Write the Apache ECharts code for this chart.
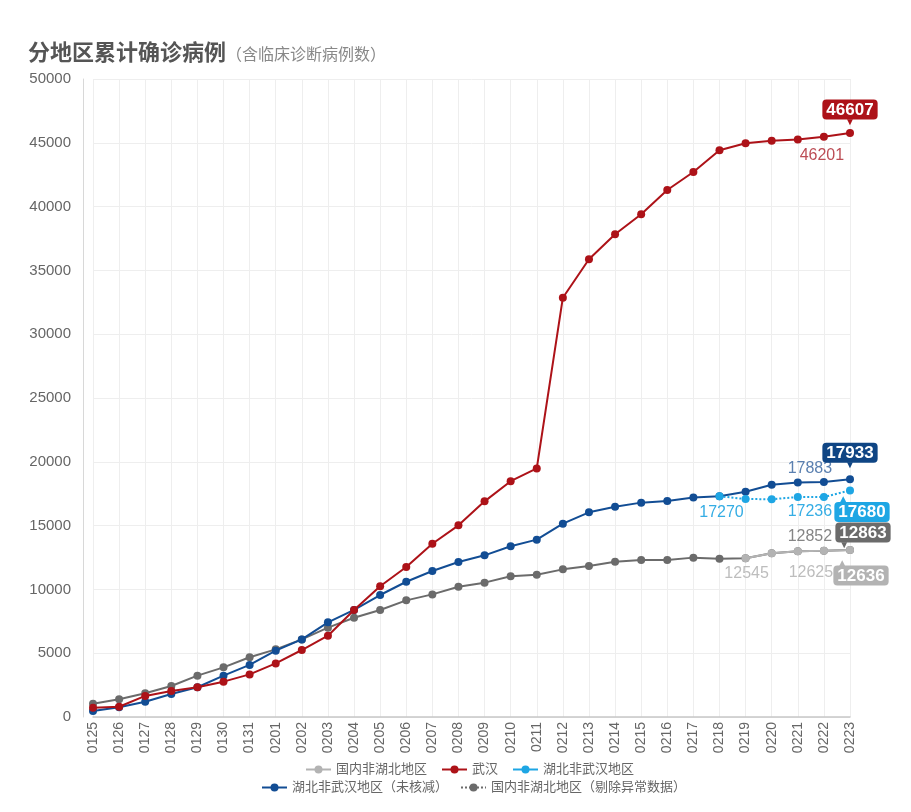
<!DOCTYPE html>
<html>
<head>
    <meta charset="utf-8">
    <title>分地区累计确诊病例</title>
    <script src="https://cdn.jsdelivr.net/npm/echarts@6/dist/echarts.min.js"></script>
    <style>
        html, body { margin: 0; padding: 0; background: #fff; }
        #main { width: 911px; height: 812px; }
    </style>
</head>
<body>
    <div id="main"></div>
    <script>
        // dates on the x axis
        var categories = ['0125', '0126', '0127', '0128', '0129', '0130', '0131',
                          '0201', '0202', '0203', '0204', '0205', '0206', '0207', '0208', '0209', '0210',
                          '0211', '0212', '0213', '0214', '0215', '0216', '0217', '0218', '0219', '0220',
                          '0221', '0222', '0223'];

        // values
        var wuhan = [720, 800, 1650, 2040, 2330, 2770, 3340, 4200, 5250, 6370, 8390, 10250, 11760, 13580, 15020,
                     16900, 18480, 19480, 32860, 35870, 37830, 39400, 41300, 42710, 44410, 44960, 45170, 45250,
                     45480, 45770];
        var hubeiRaw = [470, 760, 1200, 1800, 2330, 3240, 4080, 5200, 6080, 7420, 8390, 9560, 10600, 11440, 12150,
                        12670, 13380, 13900, 15150, 16040, 16480, 16800, 16930, 17210, 17300, 17660, 18200, 18370,
                        18420, 18630];
        var hubei = [null, null, null, null, null, null, null, null, null, null, null, null, null, null, null,
                     null, null, null, null, null, null, null, null, null, 17300, 17080, 17070, 17240, 17240, 17760];
        var otherClean = [1030, 1390, 1860, 2430, 3240, 3890, 4680, 5300, 6080, 7000, 7780, 8390, 9140, 9610, 10210,
                          10530, 11030, 11150, 11570, 11830, 12170, 12300, 12300, 12490, 12400, 12440, 12830, 12990,
                          13020, 13090];
        var other = [null, null, null, null, null, null, null, null, null, null, null, null, null, null, null,
                     null, null, null, null, null, null, null, null, null, null, 12440, 12830, 12990, 13020, 13090];

        // annotation texts: [index, text]
        var wuhanNotes = [[28, '46201'], [29, '46607']];
        var hubeiRawNotes = [[28, '17883'], [29, '17933']];
        var hubeiNotes = [[24, '17270'], [28, '17236'], [29, '17680']];
        var otherCleanNotes = [[28, '12852'], [29, '12863']];
        var otherNotes = [[25, '12545'], [28, '12625'], [29, '12636']];

        var C = {
            red: '#ad1218', redText: '#bc4d55',
            navy: '#124d94', navyText: '#5b80b0', navyTag: '#0f4584',
            sky: '#1ea6e4', skyText: '#35ade4',
            dark: '#6b6b6b', darkText: '#858585',
            light: '#b3b3b3', lightText: '#bdbdbd'
        };
        var FONT = '"Liberation Sans", Arial, "Noto Sans CJK SC", sans-serif';
        var SYM = 8;

        // place a label so its centre sits at (dx, dy) from the point
        function at(dx, dy) {
            return [SYM / 2 + dx, SYM / 2 + dy];
        }

        // plain number label
        function note(color, text, dx, dy) {
            return {show: true, position: at(dx, dy), align: 'center', verticalAlign: 'middle',
                    formatter: text, color: color, fontSize: 16, fontFamily: FONT};
        }

        // callout box with a small pointer; arrowUp puts the pointer above the box
        function tag(color, text, dx, dy, arrowUp, arrowSide) {
            var rich = {
                box: {color: '#fff', backgroundColor: color, fontSize: 17, fontWeight: 'bold',
                      padding: [2, 4, 1, 4], borderRadius: 4, lineHeight: 18, fontFamily: FONT},
                arr: {color: color, fontSize: 10, lineHeight: 7, align: arrowSide,
                      padding: arrowSide === 'left' ? [0, 0, 0, 4] : [0, 0, 0, 0]}
            };
            return {show: true, position: at(dx, dy), align: 'center', verticalAlign: 'middle', rich: rich,
                    formatter: arrowUp ? '{arr|▲}\n{box|' + text + '}'
                                       : '{box|' + text + '}\n{arr|▼}'};
        }

        function withLabels(values, labels) {
            return values.map(function (v, i) {
                return labels[i] ? {value: v, label: labels[i]} : v;
            });
        }

        var wuhanLabels = {};
        wuhanLabels[wuhanNotes[0][0]] = note(C.redText, wuhanNotes[0][1], -2, 19);
        wuhanLabels[wuhanNotes[1][0]] = tag(C.red, wuhanNotes[1][1], 0, -20, false, 'center');

        var hubeiRawLabels = {};
        hubeiRawLabels[hubeiRawNotes[0][0]] = note(C.navyText, hubeiRawNotes[0][1], -14, -13);
        hubeiRawLabels[hubeiRawNotes[1][0]] = tag(C.navyTag, hubeiRawNotes[1][1], 0, -23, false, 'center');

        var hubeiLabels = {};
        hubeiLabels[hubeiNotes[0][0]] = note(C.skyText, hubeiNotes[0][1], 2, 16);
        hubeiLabels[hubeiNotes[1][0]] = note(C.skyText, hubeiNotes[1][1], -14, 15);
        hubeiLabels[hubeiNotes[2][0]] = tag(C.sky, hubeiNotes[2][1], 12, 18, true, 'left');

        var otherCleanLabels = {};
        otherCleanLabels[otherCleanNotes[0][0]] = note(C.darkText, otherCleanNotes[0][1], -14, -14);
        otherCleanLabels[otherCleanNotes[1][0]] = tag(C.dark, otherCleanNotes[1][1], 13, -14, false, 'left');

        var otherLabels = {};
        otherLabels[otherNotes[0][0]] = note(C.lightText, otherNotes[0][1], 1, 15);
        otherLabels[otherNotes[1][0]] = note(C.lightText, otherNotes[1][1], -13, 22);
        otherLabels[otherNotes[2][0]] = tag(C.light, otherNotes[2][1], 11, 22, true, 'left');

        function lineSeries(name, color, data, dashed, z) {
            return {
                name: name, type: 'line', data: data, z: z,
                symbol: 'circle', symbolSize: SYM, showSymbol: true,
                connectNulls: false,
                itemStyle: {color: color},
                lineStyle: {color: color, width: 2, type: dashed ? 'dotted' : 'solid'},
                emphasis: {disabled: true},
                labelLayout: {hideOverlap: false}
            };
        }

        var legendText = {color: '#666', fontSize: 13, fontFamily: FONT};
        var option = {
            animation: false,
            backgroundColor: '#fff',
            textStyle: {fontFamily: FONT},
            title: {
                left: 23, top: 36,
                text: '{a|分地区累计确诊病例}{b|（含临床诊断病例数）}',
                textStyle: {
                    rich: {
                        a: {fontSize: 22, fontWeight: 'bold', color: '#555', fontFamily: '"Noto Sans CJK SC", sans-serif'},
                        b: {fontSize: 16, fontWeight: 'normal', color: '#888',
                            fontFamily: '"Noto Sans CJK SC", sans-serif', padding: [3, 0, 0, 0]}
                    }
                }
            },
            legend: [{
                top: 763, left: 305, padding: 0, itemWidth: 25, itemHeight: 10, itemGap: 14,
                textStyle: legendText,
                data: [{name: '国内非湖北地区'}, {name: '武汉'}, {name: '湖北非武汉地区', lineStyle: {type: 'solid'}}]
            }, {
                top: 781, left: 261, padding: 0, itemWidth: 25, itemHeight: 10, itemGap: 12,
                textStyle: legendText,
                data: [{name: '湖北非武汉地区（未核减）'},
                       {name: '国内非湖北地区（剔除异常数据）', lineStyle: {type: 'dotted'}}]
            }],
            grid: {left: 93, right: 61, top: 79, bottom: 95},
            xAxis: {
                type: 'category', data: categories, boundaryGap: false,
                axisLine: {lineStyle: {color: '#c8c8c8', width: 1.5}},
                axisTick: {show: false},
                axisLabel: {rotate: 90, color: '#666', fontSize: 14, margin: 5, interval: 0},
                splitLine: {show: true, lineStyle: {color: '#eeeeee'}}
            },
            yAxis: {
                type: 'value', min: 0, max: 50000, interval: 5000, offset: 10,
                axisLine: {show: true, lineStyle: {color: '#d8d8d8'}},
                axisTick: {show: false},
                axisLabel: {color: '#666', fontSize: 15, margin: 12, formatter: function (v) { return String(v); }},
                splitLine: {lineStyle: {color: '#eeeeee'}}
            },
            series: [
                lineSeries('国内非湖北地区（剔除异常数据）', C.dark, withLabels(otherClean, otherCleanLabels), false, 2),
                lineSeries('湖北非武汉地区（未核减）', C.navy, withLabels(hubeiRaw, hubeiRawLabels), false, 3),
                lineSeries('武汉', C.red, withLabels(wuhan, wuhanLabels), false, 4),
                lineSeries('国内非湖北地区', C.light, withLabels(other, otherLabels), false, 5),
                lineSeries('湖北非武汉地区', C.sky, withLabels(hubei, hubeiLabels), true, 6)
            ]
        };

        var chart = echarts.init(document.getElementById('main'));
        chart.setOption(option);
    </script>
</body>
</html>
